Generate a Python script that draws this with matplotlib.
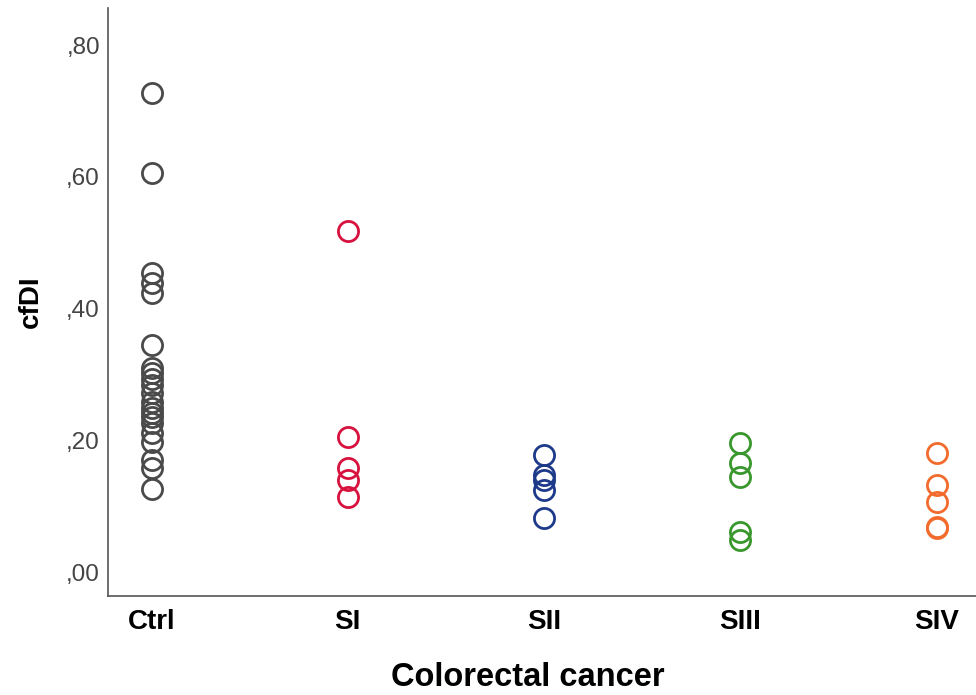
import matplotlib.pyplot as plt

plt.rcParams['font.family'] = ['Liberation Sans', 'DejaVu Sans']

groups = ['Ctrl', 'SI', 'SII', 'SIII', 'SIV']
colors = ['#4a4a4a', '#d8123e', '#1d3a8a', '#3a972e', '#f26a2c']

ctrl = [0.727, 0.606, 0.455, 0.439, 0.424, 0.345, 0.311, 0.303, 0.294, 0.285,
        0.273, 0.259, 0.250, 0.242, 0.236, 0.227, 0.212, 0.198, 0.171, 0.159, 0.127]
s1 = [0.518, 0.206, 0.159, 0.141, 0.115]
s2 = [0.179, 0.148, 0.141, 0.126, 0.083]
s3 = [0.197, 0.167, 0.145, 0.062, 0.050]
s4 = [0.182, 0.133, 0.108, 0.070, 0.068]
values = [ctrl, s1, s2, s3, s4]

yticks = [0.0, 0.2, 0.4, 0.6, 0.8]
ytick_labels = [',00', ',20', ',40', ',60', ',80']

fig = plt.figure(figsize=(9.76, 6.95), dpi=100)
ax = fig.add_axes([0.111, 0.1424, 0.889, 0.846])

for i, (vals, c) in enumerate(zip(values, colors)):
    ax.plot([i] * len(vals), vals, linestyle='none', marker='o', markersize=14.5,
            markerfacecolor='none', markeredgecolor=c, markeredgewidth=2.0)

ax.set_xlim(-0.22, 4.2)
ax.set_ylim(-0.035, 0.856)
ax.set_xticks(range(len(groups)))
ax.set_xticklabels(groups, fontsize=20, fontweight='bold', color='black')
ax.set_yticks(yticks)
ax.set_yticklabels(ytick_labels, fontsize=17.5, color='#444444')
ax.tick_params(length=0)
ax.tick_params(axis='y', pad=6)
ax.tick_params(axis='x', pad=9)

for s in ['top', 'right']:
    ax.spines[s].set_visible(False)
for s in ['left', 'bottom']:
    ax.spines[s].set_color('#555555')
    ax.spines[s].set_linewidth(1.2)

ax.set_xlabel('Colorectal cancer', fontsize=23.5, fontweight='bold')
ax.xaxis.set_label_coords(0.484, -0.112)
ax.set_ylabel('cfDI', fontsize=20, fontweight='bold')
ax.yaxis.set_label_coords(-0.074, 0.5)

fig.savefig('out.png', dpi=100)
